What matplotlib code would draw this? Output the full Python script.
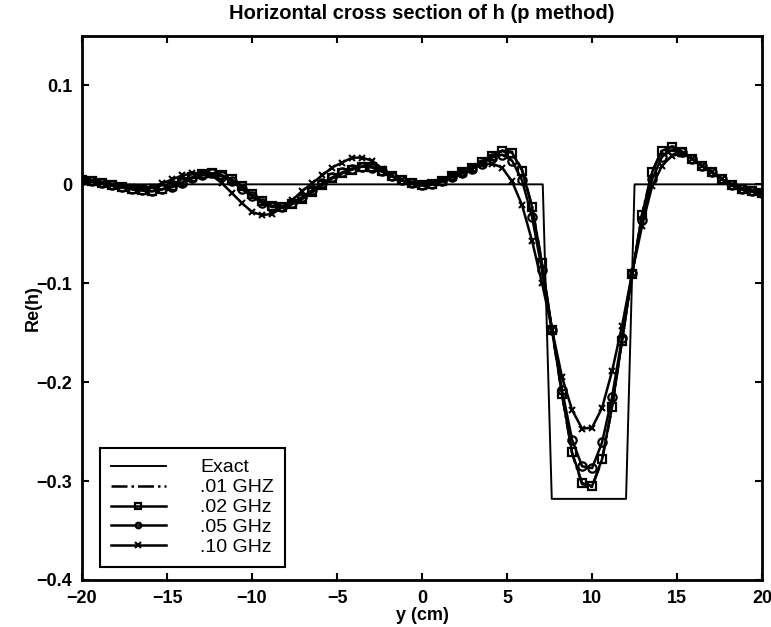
import numpy as np
import matplotlib
matplotlib.use("Agg")
import matplotlib.pyplot as plt

plt.rcParams['font.family'] = ['Liberation Sans Narrow', 'Liberation Sans', 'DejaVu Sans']

# sample positions (cm), 69 points from -20 to 20
y_cm = np.linspace(-20, 20, 69)

# exact profile
exact_x = [-20, 7.1, 7.63, 12.0, 12.5, 20]
exact_h = [0, 0, -0.318, -0.318, 0, 0]

# .02 GHz (squares)
h02 = [0.004, 0.003, 0.001, -0.001, -0.003, -0.005, -0.006, -0.007, -0.005, -0.002,
       0.002, 0.007, 0.010, 0.011, 0.009, 0.005, -0.002, -0.010, -0.017, -0.022,
       -0.023, -0.020, -0.015, -0.008, -0.001, 0.006, 0.011, 0.015, 0.018, 0.018,
       0.013, 0.008, 0.004, 0.001, -0.001, 0.000, 0.003, 0.008, 0.012, 0.017,
       0.023, 0.029, 0.034, 0.032, 0.014, -0.023, -0.080, -0.147, -0.212, -0.271,
       -0.302, -0.305, -0.278, -0.225, -0.158, -0.091, -0.031, 0.012, 0.034, 0.038,
       0.033, 0.026, 0.019, 0.012, 0.005, -0.001, -0.005, -0.007, -0.009]

# .01 GHZ (dash-dot, nearly under the .02 curve)
h01 = [0.004, 0.003, 0.001, -0.001, -0.003, -0.005, -0.006, -0.007, -0.005, -0.002,
       0.002, 0.007, 0.010, 0.011, 0.009, 0.005, -0.002, -0.010, -0.017, -0.022,
       -0.023, -0.020, -0.015, -0.008, -0.001, 0.006, 0.011, 0.015, 0.018, 0.018,
       0.013, 0.008, 0.004, 0.001, -0.001, 0.000, 0.003, 0.008, 0.012, 0.017,
       0.023, 0.029, 0.034, 0.033, 0.015, -0.022, -0.080, -0.148, -0.213, -0.272,
       -0.303, -0.306, -0.279, -0.226, -0.158, -0.091, -0.030, 0.013, 0.035, 0.038,
       0.033, 0.026, 0.019, 0.012, 0.005, -0.001, -0.005, -0.007, -0.009]

# .05 GHz (circles)
h05 = [0.004, 0.003, 0.001, -0.001, -0.003, -0.005, -0.006, -0.007, -0.005, -0.003,
       0.001, 0.006, 0.009, 0.011, 0.008, 0.003, -0.005, -0.012, -0.019, -0.023,
       -0.023, -0.019, -0.013, -0.006, 0.001, 0.007, 0.012, 0.016, 0.018, 0.017,
       0.013, 0.008, 0.004, 0.001, -0.001, 0.000, 0.003, 0.007, 0.011, 0.016,
       0.021, 0.027, 0.030, 0.024, 0.004, -0.033, -0.087, -0.147, -0.208, -0.258,
       -0.285, -0.287, -0.261, -0.215, -0.155, -0.090, -0.036, 0.005, 0.028, 0.035,
       0.033, 0.026, 0.019, 0.012, 0.005, -0.001, -0.005, -0.007, -0.009]

# .10 GHz (x marks)
h10 = [0.004, 0.003, 0.001, -0.001, -0.002, -0.003, -0.004, -0.003, 0.001, 0.005,
       0.009, 0.011, 0.0115, 0.009, 0.001, -0.009, -0.019, -0.028, -0.031, -0.030,
       -0.023, -0.016, -0.007, 0.001, 0.009, 0.017, 0.022, 0.027, 0.027, 0.024,
       0.016, 0.009, 0.004, 0.001, 0.000, 0.001, 0.004, 0.008, 0.012, 0.016,
       0.020, 0.021, 0.017, 0.003, -0.021, -0.057, -0.100, -0.147, -0.195, -0.228,
       -0.247, -0.246, -0.226, -0.189, -0.143, -0.090, -0.042, -0.002, 0.019, 0.029,
       0.031, 0.026, 0.019, 0.012, 0.005, -0.001, -0.005, -0.007, -0.009]

fig = plt.figure(figsize=(7.71, 6.27), dpi=100)
ax = fig.add_axes([0.1064, 0.075, 0.882, 0.8676])

lw = 1.8
ax.plot(exact_x, exact_h, '-', color='k', lw=1.4, label='Exact')
ax.plot(y_cm, h01, '-.', color='k', lw=lw, label='.01 GHZ')
ax.plot(y_cm, h02, '-', color='k', lw=lw, marker='s', ms=6, mfc='none', mew=1.6, label='.02 GHz')
ax.plot(y_cm, h05, '-', color='k', lw=lw, marker='o', ms=6, mfc='none', mew=1.6, label='.05 GHz')
ax.plot(y_cm, h10, '-', color='k', lw=lw, marker='x', ms=5, mew=1.5, label='.10 GHz')

ax.set_xlim(-20, 20)
ax.set_ylim(-0.4, 0.15)
ax.set_xticks(np.arange(-20, 21, 5))
ax.set_yticks([-0.4, -0.3, -0.2, -0.1, 0, 0.1])
ax.set_yticklabels(['\u22120.4', '\u22120.3', '\u22120.2', '\u22120.1', '0', '0.1'])
ax.tick_params(direction='in', top=True, right=True, length=5, width=1.5,
               labelsize=13)
ax.tick_params(axis='x', pad=7)
ax.tick_params(axis='y', pad=7)
for lab in ax.get_xticklabels() + ax.get_yticklabels():
    lab.set_fontweight('bold')
for s in ax.spines.values():
    s.set_linewidth(2)

ax.set_title('Horizontal cross section of h (p method)', fontsize=14.5, fontweight='bold', pad=12)
ax.set_xlabel('y (cm)', fontsize=13, fontweight='bold', labelpad=0)
ax.set_ylabel('Re(h)', fontsize=13, fontweight='bold', labelpad=-4)

leg = ax.legend(loc='lower left', bbox_to_anchor=(0.0265, 0.024), borderaxespad=0,
                fontsize=14, numpoints=1, handlelength=2.85, handletextpad=1.75,
                borderpad=0.55, labelspacing=0.12, fancybox=False,
                edgecolor='k', framealpha=1)
leg.get_frame().set_linewidth(1.5)
for h in leg.get_lines():
    h.set_markersize(4)

fig.savefig('out.png', dpi=100)
